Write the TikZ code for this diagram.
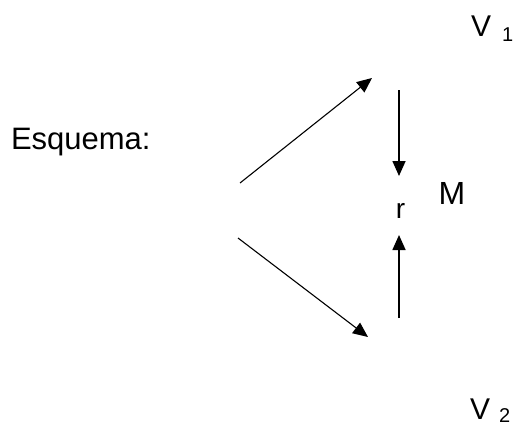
\documentclass[tikz,border=0pt]{standalone}
\usepackage{fontspec}
\setmainfont{Liberation Sans}
\usepackage{tikz}
\usetikzlibrary{arrows.meta,calc,positioning}
\tikzstyle{arrow} =[-{Triangle[length=15pt,width=13pt]},
                    line width=1.1pt]
\tikzstyle{txt}   =[inner sep=0pt, outer sep=0pt, draw=none]

\begin{document}
\begin{tikzpicture}[x=1pt, y=-1pt, every node/.style={txt}]
            \useasboundingbox (0,0) rectangle (518,428);
            \begin{scope}
                \coordinate (s1) at (240,183);
                \coordinate (t1) at (372,78);
                \coordinate (s2) at (238,238);
                \coordinate (t2) at (368,337);
                \coordinate (s3) at (399,90);
                \coordinate (t3) at (399,176);
                \coordinate (s4) at (399,318);
                \coordinate (t4) at (399,235);
                \node (E) [anchor=base west] at (11,149)
                    {\fontsize{31pt}{31pt}\selectfont Esquema:};
                \node (r) at (400.5,210.5) {\fontsize{28pt}{28pt}\selectfont r};
                \node (M) at (452,193.5) {\fontsize{32pt}{32pt}\selectfont M};
                \node (V1) [anchor=base west] at (471,37)
                    {\fontsize{30pt}{30pt}\selectfont V\hspace{11pt}%
                     \raisebox{-5pt}{\fontsize{20pt}{20pt}\selectfont 1}};
                \node (V2) [anchor=base west] at (470,419)
                    {\fontsize{30pt}{30pt}\selectfont V\hspace{9pt}%
                     \raisebox{-3pt}{\fontsize{20pt}{20pt}\selectfont 2}};
                \draw [arrow] (s1) to (t1);
                \draw [arrow] (s2) to (t2);
                \draw [arrow, line width=1.6pt] (s3) to (t3);
                \draw [arrow, line width=1.6pt] (s4) to (t4);
            \end{scope}
        \end{tikzpicture}
\end{document}
